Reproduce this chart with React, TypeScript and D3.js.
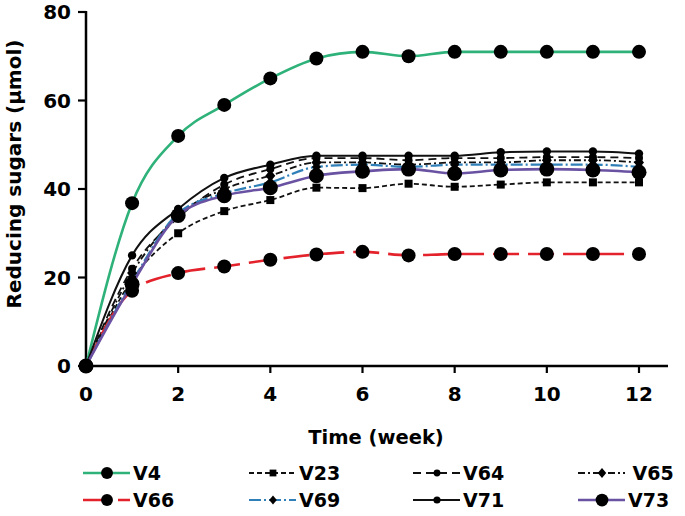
import React from "react";
import * as d3 from "d3";

const weeks = [0, 1, 2, 3, 4, 5, 6, 7, 8, 9, 10, 11, 12];
const V4 = [0, 36.8, 52, 59, 65, 69.5, 71, 70, 71, 71, 71, 71, 71];
const V23 = [0, 19.5, 30, 35, 37.5, 40.3, 40.2, 41.2, 40.5, 41, 41.5, 41.5, 41.5];
const V64 = [0, 22, 33.5, 41, 44.5, 47, 47, 46.5, 47, 47, 47.2, 47.2, 47];
const V65 = [0, 21, 34, 40, 43, 46, 46, 45.5, 46, 46, 46.5, 46.5, 46];
const V66 = [0, 17, 21, 22.5, 24, 25.2, 25.8, 25, 25.3, 25.3, 25.3, 25.3, 25.3];
const V69 = [0, 19, 34.5, 39, 41.5, 45, 45.5, 45, 45.5, 45.5, 45.5, 45.5, 45];
const V71 = [0, 25, 35.5, 42.5, 45.5, 47.5, 47.5, 47.5, 47.5, 48.3, 48.5, 48.5, 48];
const V73 = [0, 18.5, 34, 38.5, 40.3, 43, 44, 44.5, 43.5, 44.3, 44.5, 44.3, 43.8];

const xTicks = [0, 2, 4, 6, 8, 10, 12];
const yTicks = [0, 20, 40, 60, 80];
const seriesNames = ["V4", "V23", "V64", "V65", "V66", "V69", "V71", "V73"];
const seriesValues = [V4, V23, V64, V65, V66, V69, V71, V73];

type Style = { color: string; width: number; dash?: string; marker: string; size: number };
const styles: Record<string, Style> = {
  V4: { color: "#2fb27a", width: 2.6, marker: "circle", size: 7 },
  V23: { color: "#111", width: 1.8, dash: "5,3", marker: "square", size: 4 },
  V64: { color: "#111", width: 1.8, dash: "8,5", marker: "circle", size: 4 },
  V65: { color: "#111", width: 1.8, dash: "7,3,2,3", marker: "diamond", size: 5 },
  V66: { color: "#e3222b", width: 2.6, dash: "26,9", marker: "circle", size: 7 },
  V69: { color: "#2f7fb8", width: 2.2, dash: "12,3,2,3", marker: "diamond", size: 4.5 },
  V71: { color: "#111", width: 2, marker: "circle", size: 4.2 },
  V73: { color: "#6a52a3", width: 2.6, marker: "circle", size: 7.5 },
};

const FONT = "'DejaVu Sans', sans-serif";

function Marker({ kind, cx, cy, s }: { kind: string; cx: number; cy: number; s: number }) {
  if (kind === "square") return <rect x={cx - s} y={cy - s} width={2 * s} height={2 * s} fill="#000" />;
  if (kind === "diamond")
    return <path d={`M${cx},${cy - s * 1.2}L${cx + s},${cy}L${cx},${cy + s * 1.2}L${cx - s},${cy}Z`} fill="#000" />;
  return <circle cx={cx} cy={cy} r={s} fill="#000" />;
}

export default function App() {
  const x = d3.scaleLinear().domain([0, 12]).range([86, 639]);
  const y = d3.scaleLinear().domain([0, 80]).range([366, 12]);
  const line = d3
    .line<number>()
    .x((_, i) => x(weeks[i]))
    .y((d) => y(d))
    .curve(d3.curveMonotoneX);

  const legendCols = [83, 249, 413, 578];
  const legendRows = [473, 500];

  return (
    <svg width={685} height={516} style={{ position: "absolute", left: 0, top: 0, background: "#fff" }}>
      {/* axes */}
      <line x1={86} y1={11} x2={86} y2={367} stroke="#000" strokeWidth={2.5} />
      <line x1={85} y1={366} x2={668} y2={366} stroke="#000" strokeWidth={2.5} />
      {yTicks.map((t) => (
        <g key={"y" + t}>
          <line x1={78} x2={86} y1={y(t)} y2={y(t)} stroke="#000" strokeWidth={2.2} />
          <text x={71} y={y(t) + 7} textAnchor="end" fontFamily={FONT} fontWeight="bold" fontSize={20}>
            {t}
          </text>
        </g>
      ))}
      {xTicks.map((t) => (
        <g key={"x" + t}>
          <line x1={x(t)} x2={x(t)} y1={366} y2={373} stroke="#000" strokeWidth={2.2} />
          <text x={x(t)} y={401} textAnchor="middle" fontFamily={FONT} fontWeight="bold" fontSize={20}>
            {t}
          </text>
        </g>
      ))}
      <text x={376} y={444} textAnchor="middle" fontFamily={FONT} fontWeight="bold" fontSize={19.5}>
        Time (week)
      </text>
      <text
        transform={`translate(21,${174}) rotate(-90)`}
        textAnchor="middle"
        fontFamily={FONT}
        fontWeight="bold"
        fontSize={20}
      >
        Reducing sugars (µmol)
      </text>

      {/* lines */}
      {seriesNames.map((n, k) => {
        const st = styles[n];
        return (
          <path
            key={"l" + n}
            d={line(seriesValues[k]) || ""}
            fill="none"
            stroke={st.color}
            strokeWidth={st.width}
            strokeDasharray={st.dash}
          />
        );
      })}
      {/* markers */}
      {seriesNames.map((n, k) => {
        const st = styles[n];
        return (
          <g key={"m" + n}>
            {seriesValues[k].map((v, i) => (
              <Marker key={i} kind={st.marker} cx={x(weeks[i])} cy={y(v)} s={st.size} />
            ))}
          </g>
        );
      })}

      {/* legend */}
      {seriesNames.map((n, k) => {
        const st = styles[n];
        const cx = legendCols[k % 4];
        const cy = legendRows[Math.floor(k / 4)];
        return (
          <g key={"lg" + n}>
            <line x1={cx} x2={cx + 47} y1={cy} y2={cy} stroke={st.color} strokeWidth={st.width} strokeDasharray={st.dash} />
            <Marker kind={st.marker} cx={cx + 24} cy={cy} s={st.size * 0.85} />
            <text x={cx + (n === "V65" ? 48 : 50)} y={cy + 7} fontFamily={FONT} fontWeight="bold" fontSize={19}>
              {n === "V65" ? "\u00a0" + n : n}
            </text>
          </g>
        );
      })}
    </svg>
  );
}
